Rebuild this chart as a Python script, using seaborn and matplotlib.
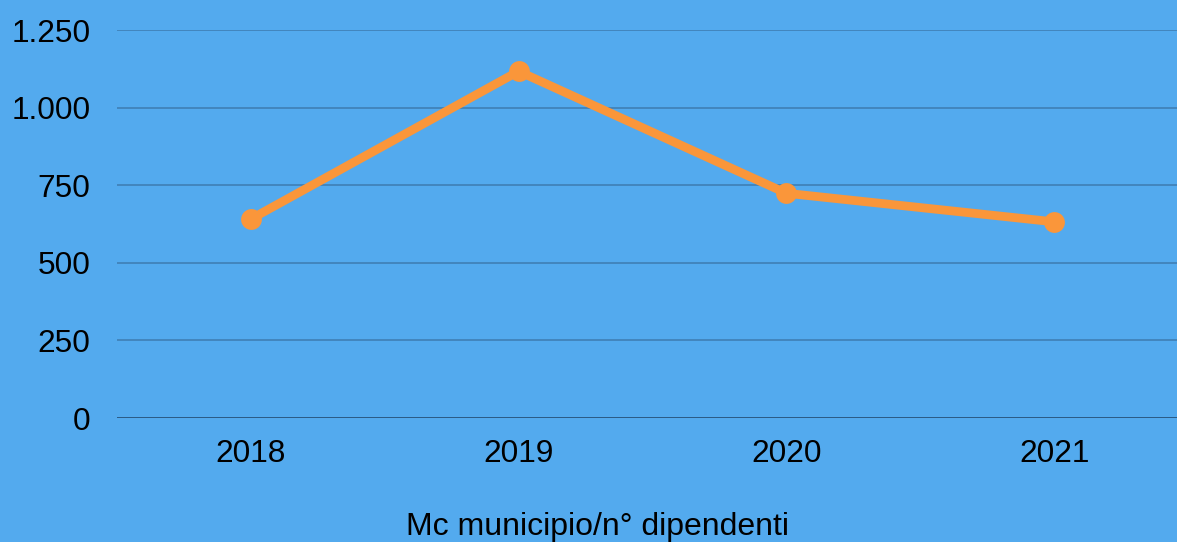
import matplotlib
matplotlib.use("Agg")
import matplotlib.pyplot as plt
import seaborn as sns
import pandas as pd

years = ["2018", "2019", "2020", "2021"]
values = [641, 1117, 724, 632]
yticks = [0, 250, 500, 750, 1000, 1250]
ytick_labels = ["0", "250", "500", "750", "1.000", "1.250"]
xlabel = "Mc municipio/n° dipendenti"

BG = "#53AAEE"
GRID = "#3F7FB5"
ZERO = "#2A5A85"
LINE = "#FA963A"

sns.set_theme(style="white")
plt.rcParams["font.family"] = ["Liberation Sans", "DejaVu Sans"]

df = pd.DataFrame({"year": years, "value": values})

W, H = 1177, 542
fig = plt.figure(figsize=(W / 100, H / 100), dpi=100, facecolor=BG)
left, right, top, bottom = 117, 1188, 30, 418
ax = fig.add_axes([left / W, 1 - bottom / H, (right - left) / W, (bottom - top) / H])
ax.set_facecolor(BG)

sns.lineplot(data=df, x="year", y="value", ax=ax, color=LINE, linewidth=6.3,
             marker="o", markersize=15, markeredgewidth=0, sort=False, clip_on=False)

ax.set_xlim(-0.5, 3.5)
ax.set_ylim(0, 1250)
ax.set_yticks(yticks)
ax.set_yticklabels(ytick_labels)
for y in yticks[1:]:
    ax.axhline(y, color=GRID, linewidth=1.2, zorder=0)
ax.axhline(0, color=ZERO, linewidth=1.4, zorder=1)

for s in ax.spines.values():
    s.set_visible(False)
ax.tick_params(axis="y", length=0, pad=19, labelsize=22.8, labelcolor="#000000")
ax.tick_params(axis="x", length=0, pad=15, labelsize=22.8, labelcolor="#000000")
ax.set_ylabel("")
ax.set_xlabel(xlabel, fontsize=23, color="#000000")
ax.xaxis.set_label_coords((597 - left) / (right - left), -(527 - bottom) / (bottom - top), transform=ax.transAxes)
ax.xaxis.label.set_verticalalignment("center")

fig.savefig("out.png", dpi=100, facecolor=BG)
